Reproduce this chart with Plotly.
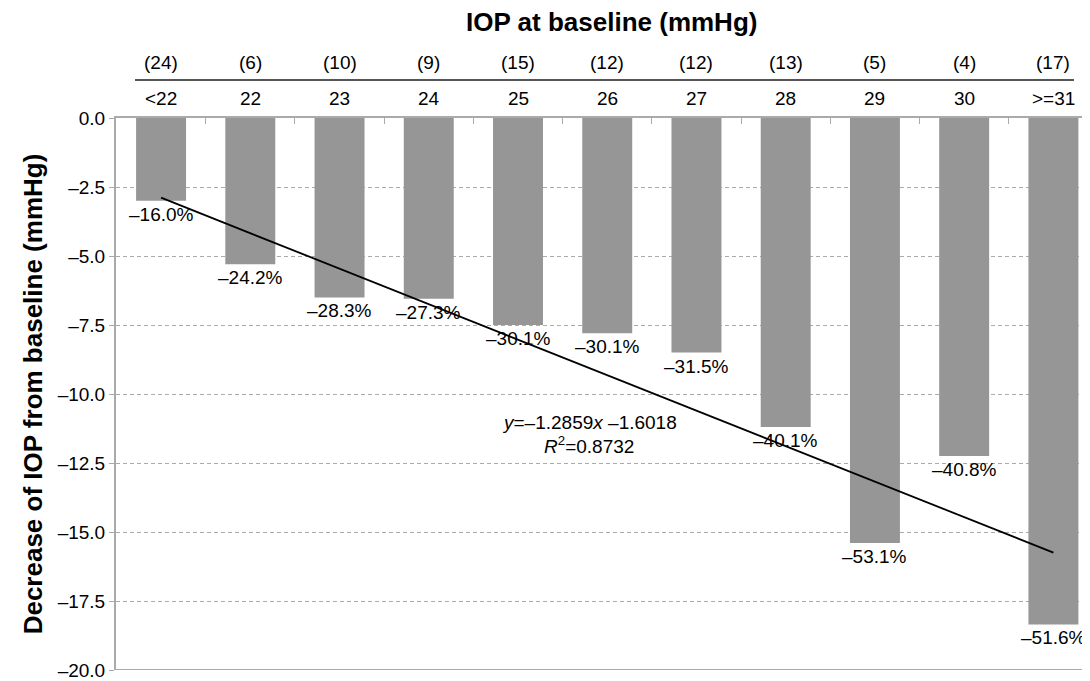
import plotly.graph_objects as go

categories = ["<22", "22", "23", "24", "25", "26", "27", "28", "29", "30", ">=31"]
counts = ["(24)", "(6)", "(10)", "(9)", "(15)", "(12)", "(12)", "(13)", "(5)", "(4)", "(17)"]
decrease = [-3.0, -5.3, -6.5, -6.55, -7.5, -7.8, -8.5, -11.2, -15.4, -12.25, -18.35]
pct_labels = ["–16.0%", "–24.2%", "–28.3%", "–27.3%", "–30.1%", "–30.1%", "–31.5%", "–40.1%", "–53.1%", "–40.8%", "–51.6%"]
slope, intercept = -1.2859, -1.6018
yticks = [0, -2.5, -5, -7.5, -10, -12.5, -15, -17.5, -20]

x = list(range(1, len(categories) + 1))
fig = go.Figure()
fig.add_bar(x=x, y=decrease, width=0.56, marker_color="#969696", marker_line_width=0)
fig.add_scatter(x=[1, 11], y=[slope * 1 + intercept, slope * 11 + intercept], mode="lines",
                line=dict(color="black", width=1.8))

for xi, c, n, v, p in zip(x, categories, counts, decrease, pct_labels):
    fig.add_annotation(x=xi, y=0, yref="y", text=c, showarrow=False, yanchor="bottom", yshift=7,
                       font=dict(size=19, color="black"))
    fig.add_annotation(x=xi, y=0, yref="y", text=n, showarrow=False, yanchor="bottom", yshift=43,
                       font=dict(size=19, color="black"))
    fig.add_annotation(x=xi, y=v, yref="y", text=p, showarrow=False, yanchor="top", yshift=-1,
                       font=dict(size=19, color="black"))
fig.add_shape(type="line", xref="paper", yref="paper", x0=0.0195, x1=0.9836, y0=1.069, y1=1.069,
              line=dict(color="#555555", width=2))
fig.add_annotation(x=5.8, y=-11.05, text="<i>y</i>=–1.2859<i>x</i> –1.6018", showarrow=False,
                   font=dict(size=19, color="black"), yanchor="middle")
fig.add_annotation(x=5.8, y=-11.85, text="<i>R</i><sup>2</sup>=0.8732", showarrow=False,
                   font=dict(size=19, color="black"), yanchor="middle")

fig.update_layout(
    width=1082, height=673, margin=dict(l=108, r=0, t=110, b=11),
    plot_bgcolor="white", paper_bgcolor="white", showlegend=False,
    font=dict(family="Liberation Sans, Arial, sans-serif", color="black", size=19),
    title=dict(text="<b>IOP at baseline (mmHg)</b>", x=0.558, xanchor="center", y=0.979, yanchor="middle",
               font=dict(size=26, color="black")),
    xaxis=dict(range=[0.495, 11.41], side="top", showline=True, linecolor="#aaaaaa", linewidth=2,
               tickvals=[i + 0.5 for i in range(1, 11)], ticktext=[""] * 10, ticks="inside",
               ticklen=6, tickcolor="#aaaaaa", showgrid=False, zeroline=False),
    yaxis=dict(range=[-20, 0], tickvals=yticks,
               ticktext=[("–" if v < 0 else "") + f"{abs(v):.1f}" for v in yticks],
               showline=True, linecolor="#aaaaaa", linewidth=2, ticks="outside", ticklen=5,
               tickcolor="#aaaaaa", gridcolor="#aaaaaa", griddash="4px,3px", gridwidth=1,
               zeroline=False, tickfont=dict(size=19),
               title=dict(text="<b>Decrease of IOP from baseline (mmHg)</b>", font=dict(size=26), standoff=8)),
)
fig.add_shape(type="line", xref="paper", yref="y", x0=0, x1=1, y0=-20, y1=-20,
              line=dict(color="#aaaaaa", width=2))
fig.write_html("out.html")
